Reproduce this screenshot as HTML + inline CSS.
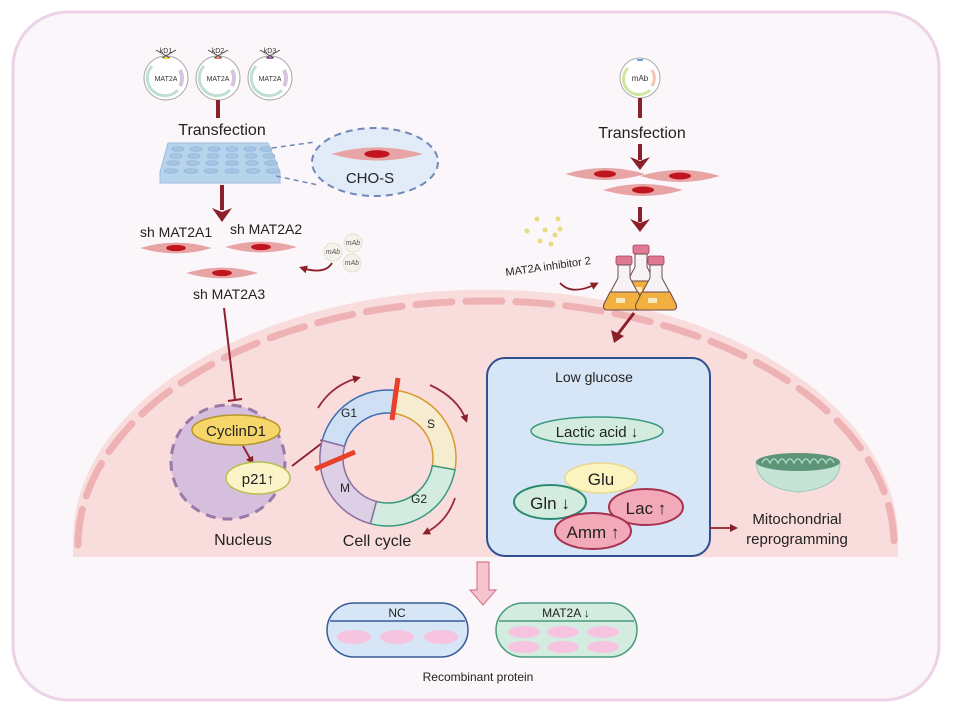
<!DOCTYPE html>
<html><head><meta charset="utf-8"><style>
html,body{margin:0;padding:0;background:#fff;}
svg{display:block;font-family:"Liberation Sans",Arial,sans-serif;}
</style></head><body>
<svg width="953" height="711" viewBox="0 0 953 711" xmlns="http://www.w3.org/2000/svg">
<defs>
<marker id="ah" markerWidth="8" markerHeight="8" refX="5" refY="4" orient="auto" markerUnits="userSpaceOnUse"><path d="M0,0 L8,4 L0,8 Z" fill="#8b1f2a"/></marker>
<g id="cell"><path d="M-40,0 Q0,-12 40,0 Q0,12 -40,0 Z" fill="#e8a4a4"/><ellipse cx="0" cy="0" rx="11" ry="3.5" fill="#c0141e"/></g>
<g id="flask">
<rect x="-8" y="-34" width="16" height="9" rx="2" fill="#e07a94" stroke="#a04060" stroke-width="0.8"/>
<path d="M-6,-25 L6,-25 L6,-12 L20,14 Q22,20 16,20 L-16,20 Q-22,20 -20,14 L-6,-12 Z" fill="#f6f2f6" stroke="#6a4a4a" stroke-width="1"/>
<path d="M-14,2 L14,2 L20,14 Q22,20 16,20 L-16,20 Q-22,20 -20,14 Z" fill="#f2b040" stroke="#6a4a4a" stroke-width="1"/>
<rect x="-8" y="8" width="9" height="5" fill="#fbe9c0"/>
</g>
</defs>
<rect x="0" y="0" width="953" height="711" fill="#fff"/>
<rect x="13" y="12" width="926" height="688" rx="55" fill="#faf6f9" stroke="#ecd2e4" stroke-width="3"/>
<!-- big cell -->
<path d="M73,557 L73,540 A412,250 0 0 1 898,540 L898,557 Z" fill="#f9dcdc"/>
<path d="M78,545 A408,244 0 0 1 894,545" fill="none" stroke="#eeb2b4" stroke-width="7" stroke-dasharray="36,14" stroke-linecap="round"/>
<!-- left top plasmids -->
<g font-size="7" text-anchor="middle" fill="#333">
<g transform="translate(166,78)"><circle r="22" fill="#fff" stroke="#aaa"/><path d="M-14,-12 A17,17 0 1 0 12,12" fill="none" stroke="#bfe0d0" stroke-width="3"/><path d="M14,-8 A17,17 0 0 1 14,8" stroke="#d8c4e0" stroke-width="4" fill="none"/><rect x="-3" y="-21" width="6" height="2" fill="#f0d040"/><path d="M-10,-28 L4,-20 M10,-28 L-4,-20" stroke="#444"/><text y="3">MAT2A</text><text y="-25">kD1</text></g>
<g transform="translate(218,78)"><circle r="22" fill="#fff" stroke="#aaa"/><path d="M-14,-12 A17,17 0 1 0 12,12" fill="none" stroke="#bfe0d0" stroke-width="3"/><path d="M14,-8 A17,17 0 0 1 14,8" stroke="#d8c4e0" stroke-width="4" fill="none"/><rect x="-3" y="-21" width="6" height="2" fill="#f08060"/><path d="M-10,-28 L4,-20 M10,-28 L-4,-20" stroke="#444"/><text y="3">MAT2A</text><text y="-25">kD2</text></g>
<g transform="translate(270,78)"><circle r="22" fill="#fff" stroke="#aaa"/><path d="M-14,-12 A17,17 0 1 0 12,12" fill="none" stroke="#bfe0d0" stroke-width="3"/><path d="M14,-8 A17,17 0 0 1 14,8" stroke="#d8c4e0" stroke-width="4" fill="none"/><rect x="-3" y="-21" width="6" height="2" fill="#a060c0"/><path d="M-10,-28 L4,-20 M10,-28 L-4,-20" stroke="#444"/><text y="3">MAT2A</text><text y="-25">kD3</text></g>
</g>
<line x1="218" y1="100" x2="218" y2="118" stroke="#8b1f2a" stroke-width="4"/>
<text x="222" y="135" font-size="16" text-anchor="middle" fill="#222">Transfection</text>
<!-- plate -->
<path d="M168,143 L268,143 L280,172 L280,183 L160,183 L160,172 Z" fill="#b8d4ec" stroke="#9cbce0"/>
<g fill="#a4c4e4" stroke="#8fb0d8" stroke-width="0.6">
<ellipse cx="178" cy="149" rx="6" ry="2.5"/><ellipse cx="196" cy="149" rx="6" ry="2.5"/><ellipse cx="214" cy="149" rx="6" ry="2.5"/><ellipse cx="232" cy="149" rx="6" ry="2.5"/><ellipse cx="250" cy="149" rx="6" ry="2.5"/><ellipse cx="266" cy="149" rx="6" ry="2.5"/>
<ellipse cx="176" cy="156" rx="6" ry="2.5"/><ellipse cx="194" cy="156" rx="6" ry="2.5"/><ellipse cx="213" cy="156" rx="6" ry="2.5"/><ellipse cx="232" cy="156" rx="6" ry="2.5"/><ellipse cx="251" cy="156" rx="6" ry="2.5"/><ellipse cx="269" cy="156" rx="6" ry="2.5"/>
<ellipse cx="173" cy="163" rx="6.5" ry="2.5"/><ellipse cx="193" cy="163" rx="6.5" ry="2.5"/><ellipse cx="212" cy="163" rx="6.5" ry="2.5"/><ellipse cx="232" cy="163" rx="6.5" ry="2.5"/><ellipse cx="252" cy="163" rx="6.5" ry="2.5"/><ellipse cx="271" cy="163" rx="6.5" ry="2.5"/>
<ellipse cx="171" cy="171" rx="7" ry="2.5"/><ellipse cx="191" cy="171" rx="7" ry="2.5"/><ellipse cx="211" cy="171" rx="7" ry="2.5"/><ellipse cx="232" cy="171" rx="7" ry="2.5"/><ellipse cx="253" cy="171" rx="7" ry="2.5"/><ellipse cx="273" cy="171" rx="7" ry="2.5"/>
</g>
<path d="M272,148 L315,142 M276,176 L318,185" stroke="#6f88b8" stroke-width="1.5" stroke-dasharray="5,4"/>
<ellipse cx="375" cy="162" rx="63" ry="34" fill="#e2ecf8" stroke="#6f88b8" stroke-width="2" stroke-dasharray="7,5"/>
<g transform="translate(377,154) scale(1.15,1.1)"><use href="#cell"/></g>
<text x="370" y="183" font-size="15" text-anchor="middle" fill="#222">CHO-S</text>
<line x1="222" y1="185" x2="222" y2="210" stroke="#8b1f2a" stroke-width="4"/>
<path d="M212,208 L222,222 L232,208 L222,212 Z" fill="#8b1f2a"/>
<g font-size="14" fill="#222">
<text x="140" y="237">sh MAT2A1</text><text x="230" y="234">sh MAT2A2</text><text x="193" y="299">sh MAT2A3</text>
</g>
<g transform="translate(176,248) scale(0.9)"><use href="#cell"/></g>
<g transform="translate(261,247) scale(0.9)"><use href="#cell"/></g>
<g transform="translate(222,273) scale(0.9)"><use href="#cell"/></g>
<g font-size="7" font-style="italic" fill="#555" text-anchor="middle">
<circle cx="353" cy="243" r="9" fill="#f4f2ea" stroke="#cfcfb0" stroke-dasharray="1,1"/><text x="353" y="245">mAb</text>
<circle cx="333" cy="252" r="9" fill="#f4f2ea" stroke="#cfcfb0" stroke-dasharray="1,1"/><text x="333" y="254">mAb</text>
<circle cx="352" cy="263" r="9" fill="#f4f2ea" stroke="#cfcfb0" stroke-dasharray="1,1"/><text x="352" y="265">mAb</text>
</g>
<path d="M332,263 Q325,275 302,268" fill="none" stroke="#8b1f2a" stroke-width="1.8" marker-end="url(#ah)"/>
<!-- inhibition line -->
<line x1="224" y1="308" x2="235" y2="400" stroke="#8b1f2a" stroke-width="2"/>
<line x1="228" y1="401" x2="242" y2="399" stroke="#8b1f2a" stroke-width="2"/>
<!-- nucleus -->
<circle cx="228" cy="462" r="57" fill="#d6bfdc" stroke="#9a78a8" stroke-width="3" stroke-dasharray="10,7"/>
<ellipse cx="236" cy="430" rx="44" ry="15" fill="#f6d66a" stroke="#b4962a" stroke-width="1.5"/>
<text x="236" y="436" font-size="15" text-anchor="middle" fill="#222">CyclinD1</text>
<line x1="243" y1="446" x2="252" y2="462" stroke="#8b1f2a" stroke-width="1.8" marker-end="url(#ah)"/>
<ellipse cx="258" cy="478" rx="32" ry="16" fill="#fbf4c8" stroke="#b8c050" stroke-width="1.5"/>
<text x="258" y="484" font-size="15" text-anchor="middle" fill="#222">p21↑</text>
<line x1="292" y1="466" x2="326" y2="440" stroke="#8b1f2a" stroke-width="1.8" marker-end="url(#ah)"/>
<text x="243" y="545" font-size="16" text-anchor="middle" fill="#222">Nucleus</text>
<!-- cell cycle ring -->
<g stroke-width="1.5">
<path d="M322.2,440.4 A68,68 0 0 1 394,390.3 L391.9,413.2 A45,45 0 0 0 344.5,446.4 Z" fill="#cfe0f4" stroke="#3e6cb0"/>
<path d="M394,390.3 A68,68 0 0 1 455,469.8 L432.3,465.8 A45,45 0 0 0 391.9,413.2 Z" fill="#f6ecd0" stroke="#d89a30"/>
<path d="M455,469.8 A68,68 0 0 1 370.4,523.7 L376.4,501.5 A45,45 0 0 0 432.3,465.8 Z" fill="#d4ece0" stroke="#3a9a80"/>
<path d="M370.4,523.7 A68,68 0 0 1 322.2,440.4 L344.5,446.4 A45,45 0 0 0 376.4,501.5 Z" fill="#ddd0e6" stroke="#8a70a0"/>
</g>
<line x1="398" y1="378" x2="392" y2="420" stroke="#e8402a" stroke-width="5"/>
<line x1="315" y1="469" x2="355" y2="452" stroke="#e8402a" stroke-width="5"/>
<g font-size="12" fill="#222" text-anchor="middle">
<text x="349" y="417">G1</text><text x="431" y="428">S</text><text x="419" y="503">G2</text><text x="345" y="492">M</text>
</g>
<path d="M318,408 Q332,385 358,378" fill="none" stroke="#9a2a3e" stroke-width="1.8" marker-end="url(#ah)"/>
<path d="M430,385 Q458,398 466,420" fill="none" stroke="#9a2a3e" stroke-width="1.8" marker-end="url(#ah)"/>
<path d="M455,498 Q447,522 425,533" fill="none" stroke="#9a2a3e" stroke-width="1.8" marker-end="url(#ah)"/>
<text x="377" y="546" font-size="16" text-anchor="middle" fill="#222">Cell cycle</text>
<!-- low glucose box -->
<rect x="487" y="358" width="223" height="198" rx="18" fill="#d6e6f6" stroke="#2f4f90" stroke-width="2"/>
<text x="594" y="382" font-size="14" text-anchor="middle" fill="#222">Low glucose</text>
<ellipse cx="597" cy="431" rx="66" ry="14" fill="#d4ece0" stroke="#3a9a80" stroke-width="1.5"/>
<text x="597" y="437" font-size="15" text-anchor="middle" fill="#222">Lactic acid ↓</text>
<ellipse cx="601" cy="478" rx="36" ry="15" fill="#fbf3c0" stroke="#e8d890" stroke-width="1.5"/>
<text x="601" y="485" font-size="17" text-anchor="middle" fill="#222">Glu</text>
<ellipse cx="550" cy="502" rx="36" ry="17" fill="#d4ece0" stroke="#2a8a70" stroke-width="2"/>
<text x="550" y="509" font-size="17" text-anchor="middle" fill="#222">Gln ↓</text>
<ellipse cx="646" cy="507" rx="37" ry="18" fill="#f2aab8" stroke="#a83050" stroke-width="2"/>
<text x="646" y="514" font-size="17" text-anchor="middle" fill="#222">Lac ↑</text>
<ellipse cx="593" cy="531" rx="38" ry="18" fill="#f2aab8" stroke="#a83050" stroke-width="2"/>
<text x="593" y="538" font-size="17" text-anchor="middle" fill="#222">Amm ↑</text>
<line x1="710" y1="528" x2="735" y2="528" stroke="#8b1f2a" stroke-width="1.8" marker-end="url(#ah)"/>
<!-- mitochondria -->
<path d="M756,463 Q800,450 840,463 Q840,488 798,492 Q758,488 756,463 Z" fill="#c6e4d6" stroke="#9ac8b4"/>
<ellipse cx="798" cy="462" rx="42" ry="9" fill="#5e9478"/>
<path d="M762,463 q4,-8 8,0 q4,-8 8,0 q4,-8 8,0 q4,-8 8,0 q4,-8 8,0 q4,-8 8,0 q4,-8 8,0 q4,-8 8,0 q4,-8 8,0" fill="none" stroke="#a8d4bc" stroke-width="1.5"/>
<text x="797" y="524" font-size="15" text-anchor="middle" fill="#222">Mitochondrial</text>
<text x="797" y="544" font-size="15" text-anchor="middle" fill="#222">reprogramming</text>
<!-- right top -->
<g transform="translate(640,78)"><circle r="20" fill="#fff" stroke="#aaa"/><path d="M-12,-10 A15,15 0 1 0 10,12" fill="none" stroke="#cfe6a0" stroke-width="3"/><path d="M12,-8 A15,15 0 0 1 12,8" stroke="#f0c8b0" stroke-width="3" fill="none"/><rect x="-3" y="-19" width="6" height="2" fill="#6aa0e0"/><text y="3" font-size="8" text-anchor="middle" fill="#333">mAb</text></g>
<line x1="640" y1="98" x2="640" y2="118" stroke="#8b1f2a" stroke-width="4"/>
<text x="642" y="138" font-size="16" text-anchor="middle" fill="#222">Transfection</text>
<line x1="640" y1="144" x2="640" y2="160" stroke="#8b1f2a" stroke-width="4"/>
<path d="M630,157 L640,170 L650,157 L640,161 Z" fill="#8b1f2a"/>
<g transform="translate(605,174)"><use href="#cell"/></g>
<g transform="translate(680,176)"><use href="#cell"/></g>
<g transform="translate(643,190)"><use href="#cell"/></g>
<line x1="640" y1="207" x2="640" y2="222" stroke="#8b1f2a" stroke-width="4"/>
<path d="M630,219 L640,232 L650,219 L640,223 Z" fill="#8b1f2a"/>
<g fill="#e8dc80"><circle cx="537" cy="219" r="2.5"/><circle cx="558" cy="219" r="2.5"/><circle cx="527" cy="231" r="2.5"/><circle cx="545" cy="230" r="2.5"/><circle cx="555" cy="235" r="2.5"/><circle cx="540" cy="241" r="2.5"/><circle cx="551" cy="244" r="2.5"/><circle cx="560" cy="229" r="2.5"/></g>
<text x="506" y="276" font-size="11" fill="#222" transform="rotate(-8 506 276)">MAT2A inhibitor 2</text>
<path d="M560,283 Q572,296 596,284" fill="none" stroke="#8b1f2a" stroke-width="1.8" marker-end="url(#ah)"/>
<!-- flasks -->
<use href="#flask" transform="translate(641,279)"/>
<use href="#flask" transform="translate(624,290)"/>
<use href="#flask" transform="translate(656,290)"/>
<line x1="634" y1="313" x2="618" y2="334" stroke="#8b1f2a" stroke-width="3"/>
<path d="M611,330 L614,343 L624,336 Z" fill="#8b1f2a"/>
<!-- bottom arrow -->
<path d="M477,562 L489,562 L489,590 L496,590 L483,605 L470,590 L477,590 Z" fill="#f6c4cc" stroke="#d87a90" stroke-width="1.2"/>
<!-- pills -->
<rect x="327" y="603" width="141" height="54" rx="27" fill="#d6e6f6" stroke="#3a5a98" stroke-width="1.5"/>
<line x1="330" y1="621" x2="465" y2="621" stroke="#3a5a98" stroke-width="1.5"/>
<text x="397" y="617" font-size="12" text-anchor="middle" fill="#222">NC</text>
<g fill="#f6c4e0"><ellipse cx="354" cy="637" rx="17" ry="7"/><ellipse cx="397" cy="637" rx="17" ry="7"/><ellipse cx="441" cy="637" rx="17" ry="7"/></g>
<rect x="496" y="603" width="141" height="54" rx="27" fill="#d4ece0" stroke="#4a9a80" stroke-width="1.5"/>
<line x1="499" y1="621" x2="634" y2="621" stroke="#4a9a80" stroke-width="1.5"/>
<text x="566" y="617" font-size="12" text-anchor="middle" fill="#222">MAT2A ↓</text>
<g fill="#f6c4e0"><ellipse cx="524" cy="632" rx="16" ry="6"/><ellipse cx="563" cy="632" rx="16" ry="6"/><ellipse cx="603" cy="632" rx="16" ry="6"/><ellipse cx="524" cy="647" rx="16" ry="6"/><ellipse cx="563" cy="647" rx="16" ry="6"/><ellipse cx="603" cy="647" rx="16" ry="6"/></g>
<text x="478" y="681" font-size="12" text-anchor="middle" fill="#222">Recombinant protein</text>
</svg>
</body></html>
